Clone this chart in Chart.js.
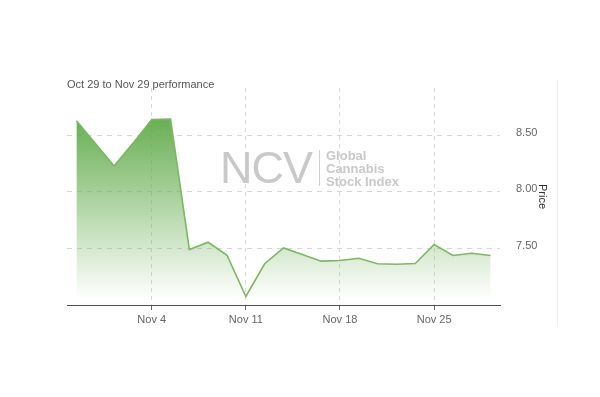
<!DOCTYPE html>
<html>
<head>
<meta charset="utf-8">
<script src="https://cdn.jsdelivr.net/npm/chart.js@4/dist/chart.umd.min.js"></script>
<style>
  html, body { margin: 0; padding: 0; background: #fff; }
  #wrap { position: relative; width: 600px; height: 397px; font-family: "Liberation Sans", Arial, sans-serif; }
  #c { position: absolute; left: 0; top: 0; }
  #title { position: absolute; left: 67px; top: 78px; font-size: 11px; color: #555; white-space: nowrap; }
  #sep { position: absolute; left: 557px; top: 80px; width: 1px; height: 247px; background: #eeeeee; }
  #wm { position: absolute; left: 220px; top: 143px; color: #c9c9c9; pointer-events: none; white-space: nowrap; }
  #wm .big { position: absolute; left: 0; top: 0; font-size: 45px; line-height: 50px; letter-spacing: -1px; }
  #wm .bar { position: absolute; left: 99px; top: 7px; width: 1px; height: 36px; background: #d0d0d0; }
  #wm .small { position: absolute; left: 106px; top: 7px; font-size: 13px; font-weight: bold; line-height: 12.8px; }
</style>
</head>
<body>
<div id="wrap">
  <canvas id="c" width="600" height="397"></canvas>
  <div id="title">Oct 29 to Nov 29 performance</div>
  <div id="sep"></div>
  <div id="wm"><div class="big">NCV</div><div class="bar"></div><div class="small">Global<br>Cannabis<br>Stock Index</div></div>
</div>
<script>
// Trading days (Oct 29 – Nov 29)
const dates = ["Oct 29","Oct 30","Oct 31","Nov 1",
  "Nov 4","Nov 5","Nov 6","Nov 7","Nov 8",
  "Nov 11","Nov 12","Nov 13","Nov 14","Nov 15",
  "Nov 18","Nov 19","Nov 20","Nov 21","Nov 22",
  "Nov 25","Nov 26","Nov 27","Nov 29"];
const prices = [8.63, 8.43, 8.23, 8.43,
  8.64, 8.645, 7.49, 7.555, 7.44,
  7.075, 7.365, 7.505, 7.447, 7.388,
  7.394, 7.414, 7.365, 7.361, 7.367,
  7.535, 7.438, 7.458, 7.438];
const xTickLabels = ["Nov 4","Nov 11","Nov 18","Nov 25"];
const yTickValues = [7.5, 8.0, 8.5];
const yMin = 7.0, yMax = 8.92;

const ctx = document.getElementById('c').getContext('2d');
new Chart(ctx, {
  type: 'line',
  data: {
    labels: dates,
    datasets: [{
      data: prices,
      borderColor: '#7cb765',
      borderWidth: 1.6,
      pointRadius: 0,
      tension: 0,
      fill: 'start',
      backgroundColor: (c) => {
        const a = c.chart.chartArea;
        if (!a) return 'rgba(100,175,80,0.5)';
        const g = c.chart.ctx.createLinearGradient(0, a.top + 25, 0, a.bottom - 5);
        g.addColorStop(0, 'rgba(100,172,78,1)');
        g.addColorStop(1, 'rgba(100,172,78,0)');
        return g;
      }
    }]
  },
  options: {
    responsive: false,
    animation: false,
    events: [],
    layout: { padding: { left: 67, top: 88, right: 43, bottom: 62 } },
    plugins: { legend: { display: false }, tooltip: { enabled: false }, title: { display: false } },
    scales: {
      x: {
        type: 'category',
        offset: true,
        afterBuildTicks: (s) => {
          s.ticks = xTickLabels.map(l => ({ value: dates.indexOf(l) }));
        },
        afterFit: (s) => { s.height = 30; },
        grid: {
          offset: false,
          color: '#d9d9d9',
          lineWidth: 1,
          drawTicks: true,
          tickLength: 5,
          tickColor: '#666',
          tickBorderDash: []
        },
        border: { display: true, color: '#555', width: 1, dash: [4, 4] },
        ticks: {
          autoSkip: false,
          maxRotation: 0,
          padding: 3,
          color: '#666',
          font: { family: '"Liberation Sans", Arial, sans-serif', size: 11 }
        }
      },
      y: {
        position: 'right',
        min: yMin,
        max: yMax,
        afterBuildTicks: (s) => { s.ticks = yTickValues.map(v => ({ value: v })); },
        afterFit: (s) => { s.width = 57; },
        grid: { color: '#d6d6d6', drawTicks: false, lineWidth: 1 },
        border: { display: false, dash: [5, 5] },
        ticks: {
          padding: 16,
          labelOffset: -3,
          color: '#666',
          font: { family: '"Liberation Sans", Arial, sans-serif', size: 11 },
          callback: (v) => Number(v).toFixed(2)
        },
        title: {
          display: true,
          text: 'Price',
          color: '#333',
          padding: { top: 8, bottom: 0 },
          font: { family: '"Liberation Sans", Arial, sans-serif', size: 11 }
        }
      }
    }
  }
});
</script>
</body>
</html>
